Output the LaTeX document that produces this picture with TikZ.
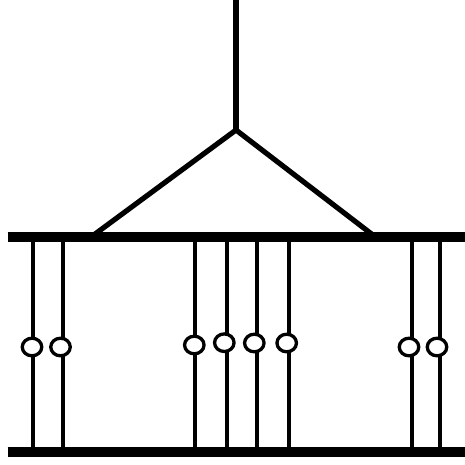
\documentclass[tikz,border=0pt]{standalone}
\usetikzlibrary{shapes.geometric}
\tikzset{
  busline/.style={line width=10pt},
  stemline/.style={line width=5.2pt},
  dropline/.style={line width=4pt},
  bead/.style={ellipse,draw=black,fill=white,line width=3.3pt,minimum width=19.5pt,minimum height=17.6pt,inner sep=0pt,outer sep=0pt}
}
\begin{document}
\begin{tikzpicture}[x=1pt,y=-1pt]
\useasboundingbox (0,0) rectangle (465,464);
% main structure
\coordinate (stemtop) at (236,0);
\coordinate (apex) at (236,130);
\coordinate (legL) at (91,237);
\coordinate (legR) at (375.5,237);
\coordinate (busAL) at (7.5,237.4);
\coordinate (busAR) at (465,237.4);
\coordinate (busBL) at (7.5,451.7);
\coordinate (busBR) at (465,451.7);
\draw[stemline] (stemtop) -- (apex);
\draw[stemline,line join=miter] (legL) -- (apex) -- (legR);
% drops
\foreach \n/\lx/\bx/\by in {a/33/32/347, b/63.3/60.5/347, c/195.3/194.3/345, d/227.3/224.3/342.7, e/257.3/254.3/343, f/289.3/286.7/343, g/411.7/409/347, h/440/437/347}{
  \coordinate (t\n) at (\lx,237.4);
  \coordinate (u\n) at (\lx,451.7);
  \draw[dropline] (t\n) -- (u\n);
  \node[bead] (bead\n) at (\bx,\by) {};
}
\draw[busline] (busAL) -- (busAR);
\draw[busline] (busBL) -- (busBR);
\end{tikzpicture}
\end{document}
